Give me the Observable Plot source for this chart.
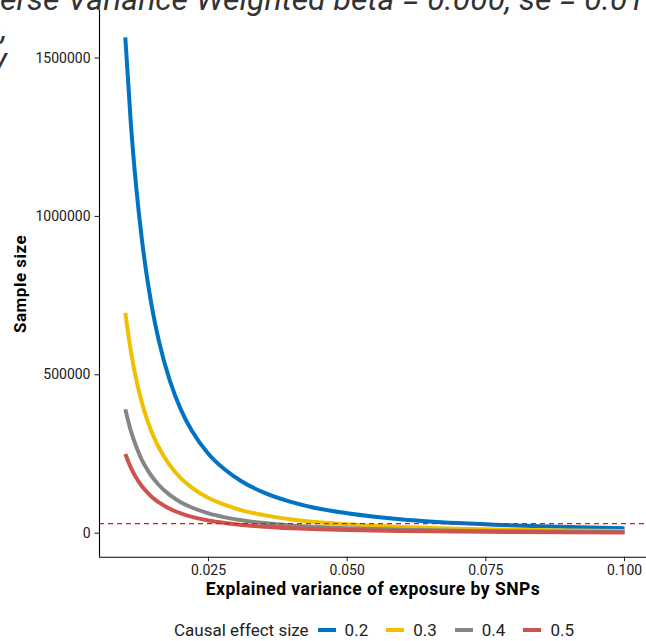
<!DOCTYPE html>
<html>
<head>
<meta charset="utf-8">
<script src="https://cdn.jsdelivr.net/npm/d3@7"></script>
<script src="https://cdn.jsdelivr.net/npm/@observablehq/plot@0.6"></script>
<style>
html, body { margin: 0; padding: 0; background: #fff; }
body { width: 646px; height: 641px; position: relative; overflow: hidden; font-family: Roboto, sans-serif; }
#chart { position: absolute; left: 0; top: 0; }
.frag { position: absolute; white-space: nowrap; font-style: italic; font-size: 32px; line-height: 24px; color: #333; }
#legend { position: absolute; left: 0; top: 619px; width: 748px; height: 22px; display: flex; align-items: center; justify-content: center; font-size: 17px; color: #222; }
#legend .sw { width: 18px; height: 4px; margin-left: 18px; }
#legend .sw.first { margin-left: 9px; }
#legend .lb { margin-left: 9px; }
.axtitle { letter-spacing: 0.5px; }
</style>
</head>
<body>
<div id="chart"></div>
<div id="title" class="frag" style="top:-13px;"><span id="pre">Inv</span>erse Variance Weighted beta = 0.000, se = 0.01</div>
<div class="frag" style="top:16px; right:639px;">o,</div>
<div class="frag" style="top:47px; right:639px;">y</div>
<div id="legend"></div>
<script>
// ---- data ----
const explainedVariance = [0.010, 0.011, 0.012, 0.013, 0.014, 0.015, 0.016, 0.018, 0.020, 0.022, 0.025, 0.028, 0.031, 0.035, 0.040, 0.045, 0.050, 0.060, 0.070, 0.080, 0.090, 0.100];
const sampleSize02 = [1565000, 1293000, 1087000, 926000, 798000, 695000, 611000, 483000, 391000, 323000, 250000, 200000, 163000, 128000, 98000, 77000, 63000, 43500, 32000, 24500, 19300, 15700];
const sampleSize03 = [696000, 575000, 483000, 412000, 355000, 309000, 272000, 215000, 174000, 144000, 111000, 89000, 72000, 57000, 43500, 34200, 28000, 19300, 14200, 10900, 8600, 7000];
const sampleSize04 = [391000, 323000, 272000, 231000, 200000, 174000, 153000, 121000, 98000, 81000, 62500, 50000, 40700, 32000, 24500, 19300, 15700, 10900, 8000, 6100, 4800, 3900];
const sampleSize05 = [250000, 207000, 174000, 148000, 128000, 111000, 98000, 77000, 62600, 51700, 40000, 32000, 26000, 20500, 15700, 12400, 10000, 7000, 5100, 3900, 3100, 2500];
const effectSizes = ["0.2", "0.3", "0.4", "0.5"];
const threshold = [30000];
const xTicks = [0.025, 0.05, 0.075, 0.1];
const yTicks = [0, 500000, 1000000, 1500000];
const lineColors = ["#0073C2", "#EFC000", "#868686", "#CD534C"];

const seriesValues = [sampleSize02, sampleSize03, sampleSize04, sampleSize05];
const data = effectSizes.flatMap((s, i) =>
  explainedVariance.map((v, j) => ({v, n: seriesValues[i][j], size: s}))
);

const xDomain = [0.00535, 0.10396];
const yDomain = [-75800, 1650000];

const chart = Plot.plot({
  width: 646,
  height: 600,
  marginLeft: 99,
  marginRight: 0,
  marginTop: 10,
  marginBottom: 43.3,
  style: {fontFamily: "Roboto, sans-serif", fontSize: "14px", color: "#1a1a1a", background: "white", overflow: "visible"},
  x: {domain: xDomain},
  y: {domain: yDomain},
  color: {domain: effectSizes, range: lineColors},
  marks: [
    Plot.line(data, {x: "v", y: "n", z: "size", stroke: "size", strokeWidth: 4, curve: "monotone-x", strokeLinecap: "butt", strokeLinejoin: "round"}),
    Plot.ruleY(threshold, {stroke: "#F01010", strokeWidth: 1.3, strokeDasharray: "5,4"}),
    Plot.axisX({ticks: xTicks, tickFormat: d3.format(".3f"), tickSize: 4.5, tickPadding: 3, label: null, fontSize: 14}),
    Plot.axisY({ticks: yTicks, tickFormat: d3.format("d"), tickSize: 4.5, tickPadding: 4.5, label: null, fontSize: 14}),
    Plot.ruleX([xDomain[0]], {stroke: "black", strokeWidth: 1.1}),
    Plot.ruleY([yDomain[0]], {stroke: "black", strokeWidth: 1.1}),
    Plot.text(["Sample size"], {frameAnchor: "left", dx: -79, rotate: -90, textAnchor: "middle", lineAnchor: "middle", fontWeight: "bold", fontSize: 17, fill: "black", className: "axtitle"}),
    Plot.text(["Explained variance of exposure by SNPs"], {frameAnchor: "bottom", dy: 32.5, textAnchor: "middle", lineAnchor: "middle", fontWeight: "bold", fontSize: 17.5, fill: "black", className: "axtitle"})
  ]
});
document.getElementById("chart").appendChild(chart);

// legend
const legend = document.getElementById("legend");
const lt = document.createElement("span");
lt.textContent = "Causal effect size";
legend.appendChild(lt);
effectSizes.forEach((s, i) => {
  const sw = document.createElement("span");
  sw.className = "sw" + (i === 0 ? " first" : "");
  sw.style.background = lineColors[i];
  legend.appendChild(sw);
  const lb = document.createElement("span");
  lb.className = "lb";
  lb.textContent = s;
  legend.appendChild(lb);
});

// title: the reference is cropped, "Inv" lies off the left edge
const pre = document.getElementById("pre");
document.getElementById("title").style.left = (-pre.getBoundingClientRect().width) + "px";
</script>
</body>
</html>
